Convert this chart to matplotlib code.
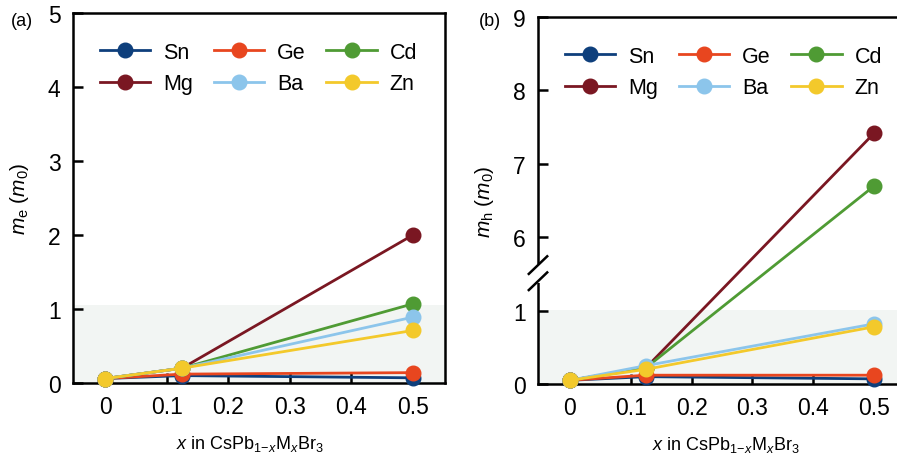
import numpy as np
import matplotlib
matplotlib.use("Agg")
import matplotlib.pyplot as plt

plt.rcParams['font.family'] = ['Liberation Sans', 'DejaVu Sans']
plt.rcParams['mathtext.fontset'] = 'custom'
plt.rcParams['mathtext.rm'] = 'Liberation Sans'
plt.rcParams['mathtext.it'] = 'Liberation Sans:italic'

# ---- data ----
x_vals = [0, 0.125, 0.5]
elements = ['Sn', 'Ge', 'Mg', 'Cd', 'Ba', 'Zn']          # draw order
legend_order = ['Sn', 'Mg', 'Ge', 'Ba', 'Cd', 'Zn']      # column-wise for 3-col legend
colors = {'Sn': '#0e3f7c', 'Ge': '#e8461f', 'Cd': '#4f9b34',
          'Mg': '#7a1722', 'Ba': '#8cc5eb', 'Zn': '#f3c92b'}

me_values = {
    'Sn': [0.06, 0.10, 0.07],
    'Ge': [0.06, 0.12, 0.14],
    'Mg': [0.06, 0.20, 2.00],
    'Cd': [0.06, 0.20, 1.07],
    'Ba': [0.06, 0.20, 0.89],
    'Zn': [0.06, 0.20, 0.71],
}
mh_values = {
    'Sn': [0.05, 0.10, 0.07],
    'Ge': [0.05, 0.12, 0.12],
    'Mg': [0.05, 0.22, 7.42],
    'Cd': [0.05, 0.22, 6.70],
    'Ba': [0.05, 0.25, 0.82],
    'Zn': [0.05, 0.20, 0.78],
}
x_ticks = [0, 0.1, 0.2, 0.3, 0.4, 0.5]
x_ticklabels = ['0', '0.1', '0.2', '0.3', '0.4', '0.5']
a_yticks = [0, 1, 2, 3, 4, 5]
b_yticks = [0, 1, 6, 7, 8, 9]
shade_top = 1.05

# broken-axis transform for panel (b)
def fwd(y):
    y = np.asarray(y, dtype=float)
    return np.where(y <= 1, y, np.where(y >= 6, y - 4, 1 + (y - 1) / 5.0))

def inv(t):
    t = np.asarray(t, dtype=float)
    return np.where(t <= 1, t, np.where(t >= 2, t + 4, 1 + (t - 1) * 5.0))

fig = plt.figure(figsize=(8.97, 4.56), dpi=100)
ax_a = fig.add_axes([73/897, 1 - 384/456, (445-73)/897, (384-14)/456])
ax_b = fig.add_axes([538/897, 1 - 385/456, (906-538)/897, (385-18)/456])

def style(ax, data, yticks, ylab, xlab_x):
    ax.axhspan(0, shade_top, color='#f2f5f3', zorder=0, lw=0)
    lines = {}
    for i, el in enumerate(elements):
        ln, = ax.plot(x_vals, data[el], '-o', color=colors[el], lw=2.0,
                      ms=10.5, mec=colors[el], label=el, zorder=3 + i, clip_on=False)
        lines[el] = ln
    ax.set_xlim(-0.052, 0.552)
    ax.set_xticks(x_ticks)
    ax.set_xticklabels(x_ticklabels)
    ax.set_yticks(yticks)
    ax.set_yticklabels([str(v) for v in yticks])
    ax.tick_params(direction='in', length=7, width=1.8, labelsize=16.5, pad=9)
    for sp in ax.spines.values():
        sp.set_linewidth(1.8)
    ax.set_xlabel(r'$\it{x}$ in CsPb$_{1\mathrm{-}\it{x}}$M$_{\it{x}}$Br$_3$',
                  fontsize=13)
    ax.xaxis.set_label_coords(xlab_x, -0.135)
    ax.set_ylabel(ylab, fontsize=15, labelpad=12)
    handles = [lines[k] for k in legend_order]
    ax.legend(handles, legend_order, ncol=3, loc='upper left',
              bbox_to_anchor=(0.02, 0.975), frameon=False, fontsize=15.5,
              handlelength=2.35, columnspacing=0.95, handletextpad=0.6,
              labelspacing=0.5)

style(ax_a, me_values, a_yticks, r'$\it{m}_{\mathrm{e}}$ ($\it{m}_0$)', 0.475)
ax_a.set_ylim(0, 5)

ax_b.set_yscale('function', functions=(fwd, inv))
style(ax_b, mh_values, b_yticks, r'$\it{m}_{\mathrm{h}}$ ($\it{m}_0$)', 0.51)
ax_b.set_ylim(0, 9)
ax_b.yaxis.set_minor_locator(matplotlib.ticker.NullLocator())

# break marks on left spine of (b)
yb1 = 1.40 / 5.0
yb2 = 1.62 / 5.0
ax_b.plot([0, 0], [yb1 - 0.004, yb2 + 0.004], transform=ax_b.transAxes,
          color='white', lw=4, clip_on=False, zorder=20, solid_capstyle='butt')
for yb in (yb1, yb2):
    ax_b.plot([-0.025, 0.025], [yb - 0.024, yb + 0.024], transform=ax_b.transAxes,
              color='black', lw=1.8, clip_on=False, zorder=21)

fig.text(22/897, 1 - 22/456, '(a)', fontsize=13, ha='center', va='center')
fig.text(490/897, 1 - 22/456, '(b)', fontsize=13, ha='center', va='center')

fig.savefig('out.png', dpi=100)
